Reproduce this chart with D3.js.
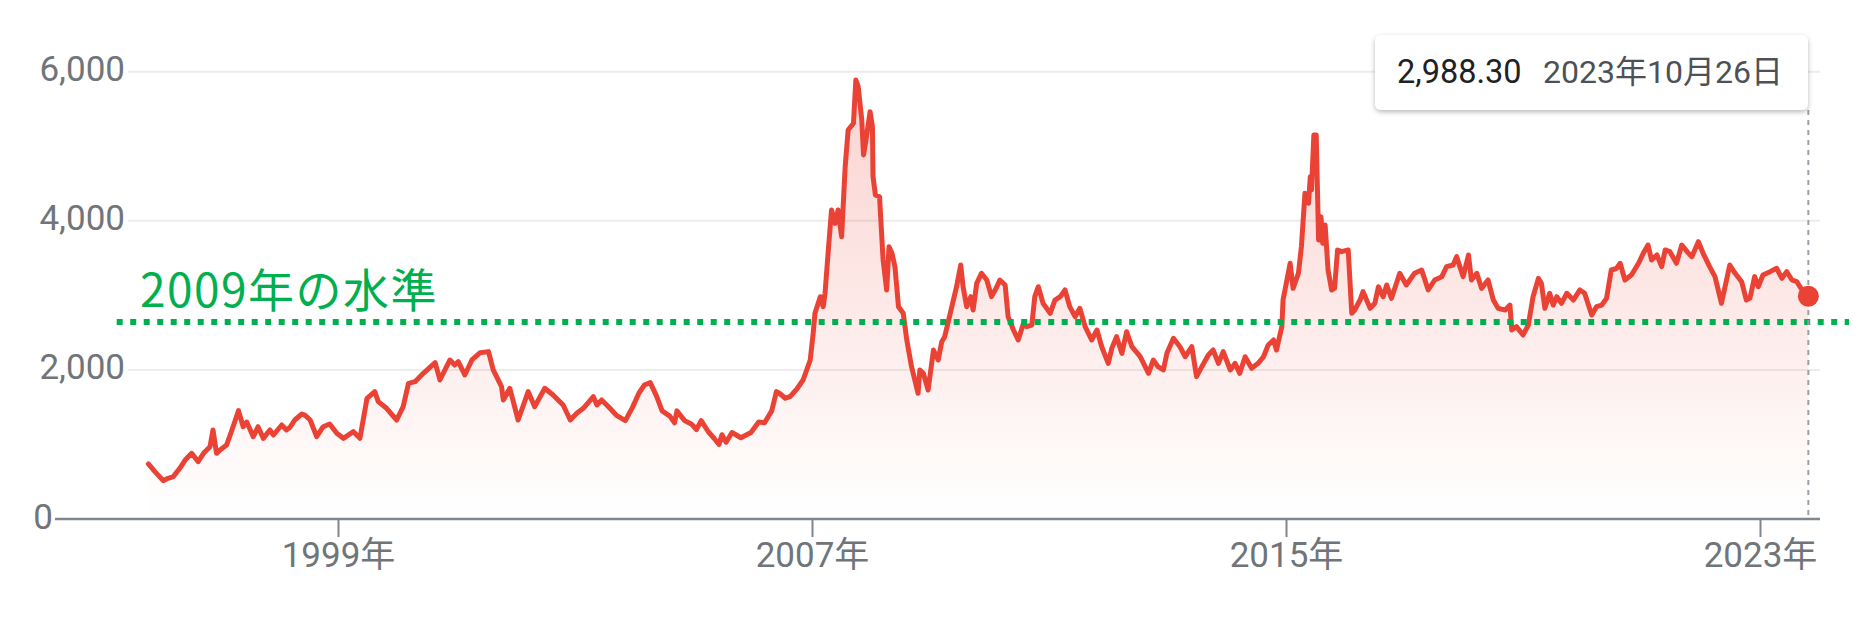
<!DOCTYPE html>
<html><head><meta charset="utf-8">
<script src="https://cdn.jsdelivr.net/npm/d3@7"></script>
<style>
html,body{margin:0;padding:0;background:#fff;}
svg{display:block;}
</style></head>
<body>
<svg id="chart" width="1868" height="620"></svg>
<script>
// decimal years
const years = [1995.80,1995.91,1996.05,1996.13,1996.22,1996.33,1996.42,1996.53,1996.64,1996.73,1996.84,1996.89,1996.95,
1997.01,1997.12,1997.21,1997.32,1997.40,1997.46,1997.52,1997.57,1997.65,1997.74,1997.85,1997.91,
1998.05,1998.13,1998.19,1998.27,1998.39,1998.44,1998.53,1998.64,1998.75,1998.86,1998.98,
1999.09,1999.26,1999.37,1999.49,1999.62,1999.68,1999.82,1999.99,
2000.10,2000.19,2000.30,2000.44,2000.64,2000.72,2000.89,2000.97,
2001.03,2001.14,2001.26,2001.40,2001.54,2001.62,2001.76,2001.79,2001.90,
2002.04,2002.21,2002.32,2002.49,2002.63,2002.80,2002.92,
2003.03,2003.14,2003.31,2003.37,2003.45,2003.59,2003.70,2003.85,2003.97,
2004.08,2004.17,2004.27,2004.38,2004.47,2004.60,2004.68,2004.72,2004.85,2004.97,
2005.05,2005.13,2005.25,2005.35,2005.43,2005.48,2005.55,2005.65,2005.80,2005.97,
2006.10,2006.20,2006.32,2006.40,2006.46,2006.55,2006.63,2006.75,2006.85,2006.97,
2007.02,2007.05,2007.14,2007.19,2007.22,2007.28,2007.33,2007.39,2007.44,2007.50,2007.56,2007.61,2007.70,2007.74,2007.78,2007.84,2007.87,2007.92,2007.98,
2008.02,2008.03,2008.07,2008.14,2008.20,2008.26,2008.30,2008.35,2008.40,2008.46,2008.54,2008.60,2008.68,2008.79,2008.82,2008.88,2008.96,
2009.05,2009.13,2009.19,2009.24,2009.36,2009.44,2009.51,2009.55,2009.61,2009.68,2009.72,2009.78,2009.86,2009.95,
2010.03,2010.12,2010.17,2010.26,2010.31,2010.40,2010.48,2010.57,2010.62,2010.71,2010.76,2010.82,2010.90,
2011.02,2011.10,2011.19,2011.27,2011.35,2011.44,2011.52,2011.61,2011.72,2011.81,2011.89,
2012.00,2012.06,2012.14,2012.23,2012.31,2012.40,2012.54,2012.68,2012.76,2012.84,2012.93,2012.99,
2013.10,2013.21,2013.30,2013.41,2013.49,2013.58,2013.69,2013.77,2013.86,2013.94,
2014.06,2014.14,2014.22,2014.31,2014.42,2014.53,2014.62,2014.70,2014.79,2014.84,2014.93,2014.95,
2015.01,2015.07,2015.12,2015.21,2015.26,2015.32,2015.38,2015.41,2015.43,2015.47,2015.51,2015.55,2015.59,2015.62,2015.66,2015.71,2015.77,2015.82,2015.87,2015.94,
2016.05,2016.11,2016.16,2016.25,2016.30,2016.42,2016.50,2016.56,2016.64,2016.70,2016.78,2016.92,
2017.03,2017.17,2017.29,2017.40,2017.51,2017.63,2017.71,2017.82,2017.88,2017.99,
2018.08,2018.13,2018.22,2018.30,2018.41,2018.50,2018.58,2018.70,2018.78,2018.81,2018.89,
2019.00,2019.09,2019.17,2019.26,2019.31,2019.37,2019.45,2019.51,2019.57,2019.65,2019.74,2019.85,2019.96,
2020.04,2020.16,2020.24,2020.33,2020.41,2020.49,2020.58,2020.64,2020.72,2020.83,2020.95,
2021.03,2021.11,2021.17,2021.26,2021.34,2021.40,2021.48,2021.59,2021.68,2021.77,2021.85,2021.96,
2022.04,2022.15,2022.24,2022.35,2022.41,2022.49,2022.58,2022.69,2022.77,2022.83,2022.91,2022.97,
2023.05,2023.17,2023.28,2023.37,2023.45,2023.54,2023.62,2023.71,2023.816];

const values = [738,635,514,545,568,680,791,881,769,881,970,1194,881,
926,993,1194,1453,1238,1300,1194,1104,1238,1082,1194,1127,
1261,1194,1230,1328,1408,1395,1328,1104,1238,1274,1150,
1082,1171,1082,1619,1708,1574,1485,1328,
1507,1820,1842,1954,2097,1865,2133,2066,
2110,1932,2133,2231,2245,1999,1775,1596,1753,
1328,1708,1507,1753,1663,1529,1328,
1418,1485,1641,1529,1596,1485,1390,1320,1497,
1690,1797,1829,1641,1450,1380,1290,1450,1320,1270,
1200,1320,1170,1080,1000,1130,1030,1160,1090,1160,
1300,1290,1450,1708,1680,1620,1641,1750,1865,2133,
2491,2759,2982,2848,3028,3653,4145,3966,4145,3787,4726,5218,5308,5889,5799,5352,4883,5128,5464,
5263,4592,4346,4323,3474,3072,3653,3564,3384,2848,2759,2401,2043,1686,1999,1954,1730,
2267,2133,2378,2446,2848,3116,3407,3116,2848,2982,2803,3161,3296,3206,
2982,3116,3206,3139,2714,2535,2401,2625,2580,2602,2982,3116,2893,
2759,2937,2982,3072,2848,2714,2826,2580,2401,2535,2311,
2088,2289,2446,2222,2512,2311,2177,1954,2133,2043,1999,2222,
2424,2311,2177,2311,1909,2043,2200,2267,2088,2245,
1999,2088,1954,2177,2021,2088,2177,2334,2401,2267,2580,2937,
3183,3430,3094,3296,3653,4369,4235,4592,4413,5151,5151,3743,4055,3698,3944,3340,3072,3094,3609,3586,
3609,2759,2803,2937,3049,2826,2893,3116,2982,3139,2960,3296,
3139,3296,3340,3072,3206,3251,3385,3407,3519,3251,
3541,3206,3296,3094,3206,2937,2826,2803,2870,2535,2580,
2468,2602,2982,3228,3161,2826,3028,2870,2982,2893,3028,2937,3072,
3028,2736,2848,2870,2960,3340,3363,3430,3206,3273,3430,
3564,3675,3474,3541,3385,3609,3586,3430,3675,3586,3519,3720,
3564,3385,3251,2893,3116,3407,3296,3183,2937,2960,3251,3116,
3273,3318,3363,3228,3318,3206,3183,3072,2988.3];

const yTicks = [0, 2000, 4000, 6000];
const yTickLabels = ["0", "2,000", "4,000", "6,000"];
const xTicks = [1999, 2007, 2015, 2023];
const xTickLabels = ["1999年", "2007年", "2015年", "2023年"];
const levelValue = 2642;
const levelLabel = "2009年の水準";
const lastValueLabel = "2,988.30";
const lastDateLabel = "2023年10月26日";

const data = years.map((t, i) => ({t, v: values[i]}));

const svg = d3.select("#chart");
const x = d3.scaleLinear().domain([1999, 2023]).range([338, 1760]);
const y = d3.scaleLinear().domain([0, 6000]).range([519, 71.7]);

const defs = svg.append("defs");
const grad = defs.append("linearGradient").attr("id", "areaGrad")
  .attr("gradientUnits", "userSpaceOnUse").attr("x1", 0).attr("x2", 0)
  .attr("y1", y(6000)).attr("y2", y(0));
grad.append("stop").attr("offset", 0).attr("stop-color", "#ea4335").attr("stop-opacity", 0.24);
grad.append("stop").attr("offset", 1).attr("stop-color", "#ea4335").attr("stop-opacity", 0.0);
const sh = defs.append("filter").attr("id", "shadow").attr("x", "-10%").attr("y", "-20%").attr("width", "120%").attr("height", "160%");
sh.append("feDropShadow").attr("dx", 0).attr("dy", 2).attr("stdDeviation", 2.5).attr("flood-color", "#000").attr("flood-opacity", 0.28);

const font = "Roboto, 'Noto Sans CJK JP', Arial, sans-serif";

// gridlines
svg.append("g").selectAll("line").data(yTicks.filter(d => d > 0)).join("line")
  .attr("x1", 128).attr("x2", 1820)
  .attr("y1", d => y(d)).attr("y2", d => y(d))
  .attr("stroke", "#ececec").attr("stroke-width", 2);

// y labels
svg.append("g").selectAll("text").data(yTicks).join("text")
  .attr("x", d => d === 0 ? 53 : 125)
  .attr("y", d => y(d) + 9.5)
  .attr("text-anchor", "end")
  .attr("font-family", font).attr("font-size", 35).attr("fill", "#70757a")
  .text((d, i) => yTickLabels[i]);

// area
svg.append("path").datum(data)
  .attr("d", d3.area().x(d => x(d.t)).y0(y(0)).y1(d => y(d.v)))
  .attr("fill", "url(#areaGrad)");

// x axis
svg.append("line").attr("x1", 55).attr("x2", 1820).attr("y1", y(0)).attr("y2", y(0))
  .attr("stroke", "#80868b").attr("stroke-width", 2.5);
const xAxis = svg.append("g").attr("transform", `translate(0,${y(0)})`)
  .call(d3.axisBottom(x).tickValues(xTicks).tickSize(18).tickPadding(5)
    .tickFormat((d, i) => xTickLabels[i]));
xAxis.select(".domain").remove();
xAxis.selectAll(".tick line").attr("stroke", "#80868b").attr("stroke-width", 2);
xAxis.selectAll(".tick text").attr("font-family", font).attr("font-size", 35).attr("fill", "#70757a");

// line
svg.append("path").datum(data)
  .attr("d", d3.line().x(d => x(d.t)).y(d => y(d.v)))
  .attr("fill", "none").attr("stroke", "#ea4335").attr("stroke-width", 5)
  .attr("stroke-linejoin", "round").attr("stroke-linecap", "round");

// level line
svg.append("line").attr("x1", 116.7).attr("x2", 1849)
  .attr("y1", y(levelValue)).attr("y2", y(levelValue))
  .attr("stroke", "#00b050").attr("stroke-width", 6).attr("stroke-dasharray", "6 7.5");
svg.append("text").attr("x", 140).attr("y", 307)
  .attr("font-family", "'Noto Sans CJK JP', sans-serif").attr("font-size", 46)
  .attr("letter-spacing", 1.5)
  .attr("fill", "#00b050").text(levelLabel);

// hover line and point
const last = data[data.length - 1];
svg.append("line").attr("x1", x(last.t)).attr("x2", x(last.t)).attr("y1", 110).attr("y2", y(0))
  .attr("stroke", "#9aa0a6").attr("stroke-width", 2).attr("stroke-dasharray", "5 5");
svg.append("circle").attr("cx", x(last.t)).attr("cy", y(last.v)).attr("r", 10.5).attr("fill", "#ea4335");

// tooltip
const tip = svg.append("g");
tip.append("rect").attr("x", 1375).attr("y", 35).attr("width", 433).attr("height", 75).attr("rx", 6)
  .attr("fill", "#fff").attr("filter", "url(#shadow)");
tip.append("text").attr("x", 1397).attr("y", 83).attr("font-family", font).attr("font-size", 32.5)
  .attr("fill", "#202124").text(lastValueLabel);
tip.append("text").attr("x", 1543).attr("y", 83).attr("font-family", font).attr("font-size", 32)
  .attr("fill", "#4d5156").text(lastDateLabel);
</script>
</body></html>
